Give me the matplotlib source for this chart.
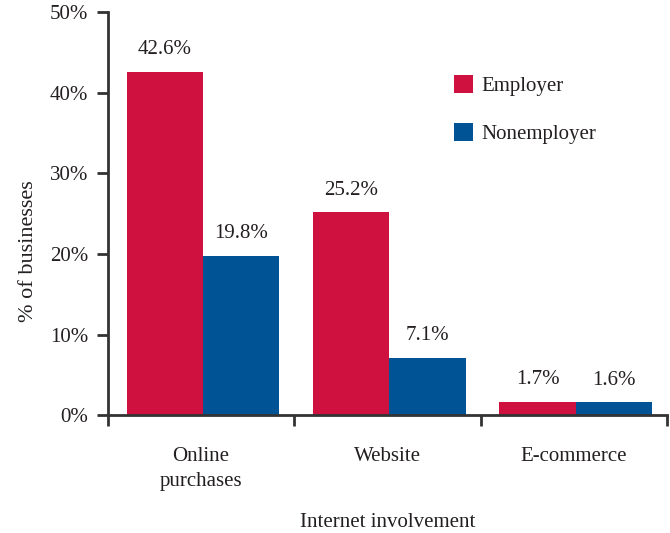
import matplotlib
matplotlib.use("Agg")
import matplotlib.pyplot as plt
import numpy as np

categories = ["Online\npurchases", "Website", "E-commerce"]
employer = [42.6, 25.2, 1.7]
nonemployer = [19.8, 7.1, 1.6]
series_names = ["Employer", "Nonemployer"]
yticks = [0, 10, 20, 30, 40, 50]
ytick_labels = ["0%", "10%", "20%", "30%", "40%", "50%"]

RED = "#CF1140"
BLUE = "#005495"
TXT = "#231f20"

plt.rcParams['font.family'] = ['Liberation Serif', 'DejaVu Serif']
plt.rcParams['text.color'] = TXT

fig = plt.figure(figsize=(6.7, 5.33), dpi=100)
ax = fig.add_axes([0.161, 0.221, 0.835, 0.756])

x = np.arange(len(categories))
w = 0.41
b1 = ax.bar(x - w / 2 + 0.01, employer, w, color=RED, label=series_names[0])
b2 = ax.bar(x + w / 2 + 0.01, nonemployer, w, color=BLUE, label=series_names[1])

for bars, vals in ((b1, employer), (b2, nonemployer)):
    for rect, v in zip(bars, vals):
        ax.annotate(f"{v}%", (rect.get_x() + rect.get_width() / 2, v),
                    xytext=(0, 9), textcoords="offset points",
                    ha="center", va="bottom", fontsize=15, color=TXT)

ax.set_xlim(-0.5, 2.5)
ax.set_ylim(0, 50)
ax.set_yticks(yticks)
ax.set_yticklabels(ytick_labels, fontsize=15, color=TXT)
ax.set_xticks(x)
ax.set_xticklabels(categories, fontsize=15, color=TXT, linespacing=1.42)
ax.set_xticks([-0.5, 0.5, 1.5, 2.5], minor=True)
ax.tick_params(axis="x", which="major", length=0, pad=23)
ax.tick_params(axis="x", which="minor", length=8, width=2, color="#333333", direction="out")
ax.tick_params(axis="y", length=8, width=2, color="#333333", direction="out", pad=6)

for s in ["top", "right"]:
    ax.spines[s].set_visible(False)
for s in ["left", "bottom"]:
    ax.spines[s].set_linewidth(2)
    ax.spines[s].set_color("#333333")

ax.set_ylabel("% of businesses", fontsize=16, color=TXT, labelpad=9, y=0.407)
ax.set_xlabel("Internet involvement", fontsize=15, color=TXT, labelpad=16)

leg = ax.legend(loc="upper left", bbox_to_anchor=(0.585, 0.89), frameon=False,
                fontsize=15, handlelength=0.9, handleheight=0.9,
                labelspacing=1.3, handletextpad=0.43)

fig.savefig("out.png", dpi=100)
